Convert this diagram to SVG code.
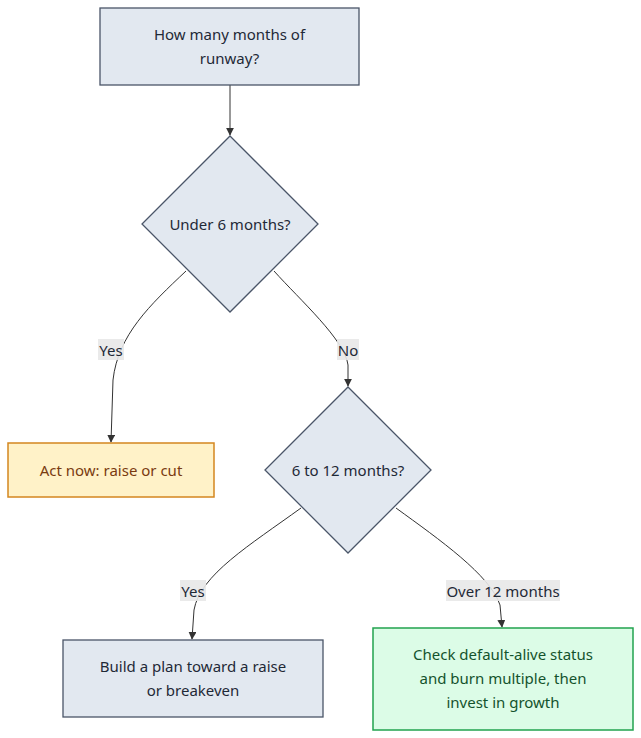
<svg xmlns="http://www.w3.org/2000/svg" width="641" height="738" viewBox="0 0 641 738">
<style>
text{font-family:"Noto Sans","Open Sans",sans-serif;font-size:15px;font-weight:400;text-anchor:middle;dominant-baseline:central;fill:#1f2937}
.n{fill:#e2e8f0;stroke:#4a5568;stroke-width:1.3}
.e{fill:none;stroke:#333;stroke-width:1}
.lb{fill:#e8e8e8;opacity:0.9}
</style>
<defs>
<marker id="ah" viewBox="0 0 10 10" refX="9" refY="5" markerWidth="8" markerHeight="8" markerUnits="userSpaceOnUse" orient="auto">
<path d="M0,0 L10,5 L0,10 z" fill="#333"/>
</marker>
</defs>
<rect width="641" height="738" fill="#fff"/>
<g id="connectors">
<path class="e" d="M230,85 L230,135" marker-end="url(#ah)"/>
<path class="e" d="M186,271 C150,305 118,335 113,380 L111,442" marker-end="url(#ah)"/>
<path class="e" d="M274,271 C300,300 345,340 348,365 L348,386" marker-end="url(#ah)"/>
<path class="e" d="M301,508 C250,545 200,575 194,610 L192,639" marker-end="url(#ah)"/>
<path class="e" d="M396,508 C440,540 490,575 500,605 L502,627" marker-end="url(#ah)"/>
</g>
<g id="labels">
<rect class="lb" x="98" y="339" width="26" height="21"/><text x="111" y="349.5">Yes</text>
<rect class="lb" x="337" y="339" width="22" height="21"/><text x="348" y="349.5">No</text>
<rect class="lb" x="180" y="580" width="26" height="21"/><text x="193" y="590.5">Yes</text>
<rect class="lb" x="446" y="580" width="114" height="21"/><text x="503" y="590.5">Over 12 months</text>
</g>
<g id="q1">
<rect class="n" x="100" y="8" width="259" height="77"/>
<text x="229.5" y="34">How many months of</text>
<text x="229.5" y="58">runway?</text>
</g>
<g id="d1">
<polygon class="n" points="230,136 318,224 230,312 142,224"/>
<text x="230" y="224">Under 6 months?</text>
</g>
<g id="act">
<rect x="8" y="443" width="206" height="54" fill="#fff2c8" stroke="#d4861f" stroke-width="1.5"/>
<text x="111" y="470" style="fill:#7a3b10">Act now: raise or cut</text>
</g>
<g id="d2">
<polygon class="n" points="348,387 431,470 348,553 265,470"/>
<text x="348" y="470">6 to 12 months?</text>
</g>
<g id="build">
<rect class="n" x="63" y="640" width="260" height="77"/>
<text x="193" y="666">Build a plan toward a raise</text>
<text x="193" y="690">or breakeven</text>
</g>
<g id="check">
<rect x="373" y="628" width="260" height="102" fill="#dcfce7" stroke="#22a34f" stroke-width="1.5"/>
<text x="503" y="654" style="fill:#14532d">Check default-alive status</text>
<text x="503" y="678" style="fill:#14532d">and burn multiple, then</text>
<text x="503" y="702" style="fill:#14532d">invest in growth</text>
</g>
</svg>
